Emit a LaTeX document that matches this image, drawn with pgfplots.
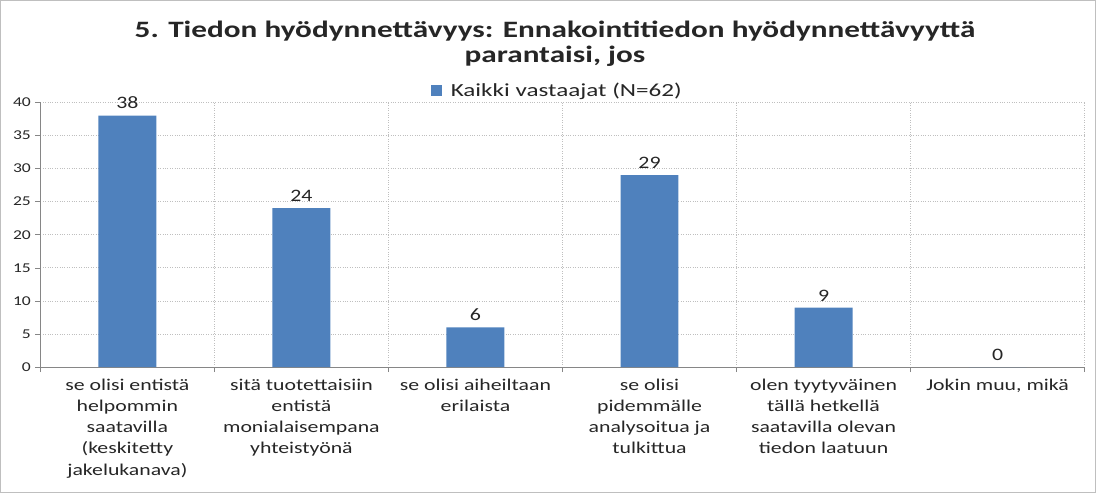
\documentclass[border=0pt]{standalone}
\usepackage{fontspec}
\setmainfont{Carlito}
\usepackage{graphicx}
\usepackage{pgfplots}
\pgfplotsset{compat=1.18}
\definecolor{barBlue}{HTML}{4F81BD}
\definecolor{gridGray}{HTML}{BFBFBF}
\definecolor{axisGray}{HTML}{868686}
\definecolor{inkDark}{HTML}{262626}

\begin{document}
\begin{tikzpicture}[x=1pt,y=1pt]
% outer chart frame
\draw[gridGray, line width=0.8pt] (0,0) rectangle (1096,492);
\begin{axis}[
  at={(40pt,125pt)}, anchor=south west,
  scale only axis, width=1045pt, height=265pt,
  ybar, bar width=58pt,
  xmin=-0.5, xmax=5.5, ymin=0, ymax=40,
  ytick={0,5,...,40},
  xtick={0,...,5},
  xticklabels={
    {se olisi entistä\\helpommin\\saatavilla\\(keskitetty\\jakelukanava)},
    {sitä tuotettaisiin\\entistä\\monialaisempana\\yhteistyönä},
    {se olisi aiheiltaan\\erilaista},
    {se olisi\\pidemmälle\\analysoitua ja\\tulkittua},
    {olen tyytyväinen\\tällä hetkellä\\saatavilla olevan\\tiedon laatuun},
    {Jokin muu, mikä}},
  minor xtick={-0.5,0.5,...,5.5},
  xminorgrids, ymajorgrids,
  minor grid style={gridGray, dotted, line width=0.7pt},
  major grid style={gridGray, dotted, line width=0.7pt},
  axis x line*=bottom, axis y line*=left,
  axis line style={axisGray, line width=0.8pt},
  major x tick style={draw=none},
  minor x tick style={axisGray, line width=0.6pt},
  y tick style={axisGray, line width=0.6pt},
  tick align=outside, major tick length=5pt, minor tick length=5pt,
  /pgf/number format/assume math mode=true,
  yticklabel style={font=\fontsize{13.5}{15}\selectfont, text=inkDark, xscale=1.3},
  xticklabel style={font=\fontsize{16.5}{21.3}\selectfont, text=inkDark,
    align=center, anchor=north, yshift=-3pt, xscale=1.32},
  nodes near coords,
  every node near coord/.append style={font=\fontsize{17.5}{20}\selectfont, text=inkDark,
    yshift=3pt, xscale=1.25},
  legend style={at={(0.495,1.0)}, anchor=south, draw=none, fill=none,
    font=\fontsize{18.5}{20}\selectfont, text=inkDark, yshift=0pt},
  legend image code/.code={\fill[barBlue] (0pt,-5pt) rectangle (11pt,6pt);},
  clip=false,
]
\addplot[fill=barBlue, draw=none] coordinates
  {(0,38) (1,24) (2,6) (3,29) (4,9) (5,0)};
\legend{\hspace{7pt}\scalebox{1.36}[1]{Kaikki vastaajat (N=62)}}
\end{axis}
\node[font=\bfseries\fontsize{23.5}{25}\selectfont, text=inkDark, align=center, anchor=center, xscale=1.33]
  at (555,449) {5. Tiedon hyödynnettävyys: Ennakointitiedon hyödynnettävyyttä\\parantaisi, jos};
\end{tikzpicture}
\end{document}
